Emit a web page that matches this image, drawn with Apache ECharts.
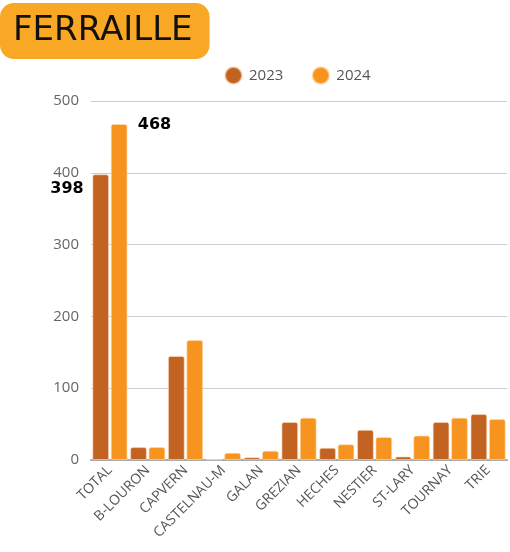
<!DOCTYPE html>
<html>
<head>
<meta charset="utf-8">
<script src="https://cdn.jsdelivr.net/npm/echarts@6/dist/echarts.min.js"></script>
<style>
  html, body { margin: 0; padding: 0; background: #fff; }
  #main { width: 510px; height: 552px; }
</style>
</head>
<body>
<div id="main"></div>
<script>
  // catégories et valeurs
  var categories = ['TOTAL', 'B-LOURON', 'CAPVERN', 'CASTELNAU-M', 'GALAN', 'GREZIAN', 'HECHES', 'NESTIER', 'ST-LARY', 'TOURNAY', 'TRIE'];
  var values2023 = [398, 18, 145, 1, 4, 53, 17, 42, 5, 53, 64];
  var values2024 = [468, 18, 167, 10, 13, 59, 22, 32, 34, 59, 57];
  var yTicks = [0, 100, 200, 300, 400, 500];

  var chart = echarts.init(document.getElementById('main'));

  function withTotalLabel(values, pos) {
    return values.map(function (v, i) {
      if (i !== 0) return v;
      return {
        value: v,
        label: {
          show: true,
          position: pos,
          color: '#000',
          fontSize: 16,
          fontWeight: 'bold',
          fontFamily: 'DejaVu Sans'
        }
      };
    });
  }

  chart.setOption({
    animation: false,
    title: {
      text: 'FERRAILLE',
      left: 0,
      top: 3,
      padding: [10, 17, 10, 13],
      backgroundColor: '#F9A825',
      borderRadius: 14,
      textStyle: {
        color: '#111',
        fontSize: 34,
        lineHeight: 36,
        fontWeight: 'normal',
        fontFamily: 'DejaVu Sans'
      }
    },
    legend: {
      top: 61,
      left: 219,
      icon: 'circle',
      itemWidth: 17,
      itemHeight: 17,
      itemGap: 28,
      textStyle: { color: '#555', fontSize: 15, fontFamily: 'Open Sans', padding: [0, 0, 0, 2] },
      data: ['2023', '2024']
    },
    grid: {
      left: 91,
      right: 3,
      top: 101,
      bottom: 92
    },
    xAxis: {
      type: 'category',
      data: categories,
      axisLine: { lineStyle: { color: '#aaa', width: 2 } },
      axisTick: { show: false },
      axisLabel: {
        rotate: 45,
        color: '#555',
        fontSize: 14,
        fontFamily: 'Open Sans',
        interval: 0,
        margin: 8
      }
    },
    yAxis: {
      type: 'value',
      min: yTicks[0],
      max: yTicks[yTicks.length - 1],
      interval: 100,
      axisLabel: { color: '#666', fontSize: 15, fontFamily: 'Open Sans', margin: 12 },
      splitLine: { lineStyle: { color: '#ccc' } },
      axisLine: { show: false },
      axisTick: { show: false }
    },
    series: [
      {
        name: '2023',
        type: 'bar',
        barGap: '10%',
        barCategoryGap: '7%',
        data: withTotalLabel(values2023, [-42, 7]),
        itemStyle: {
          color: '#C26322',
          borderColor: 'rgba(255,220,190,0.6)',
          borderWidth: 1,
          borderRadius: [2, 2, 0, 0]
        }
      },
      {
        name: '2024',
        type: 'bar',
        data: withTotalLabel(values2024, [27, -7]),
        itemStyle: {
          color: '#F79420',
          borderColor: 'rgba(255,220,170,0.6)',
          borderWidth: 1,
          borderRadius: [2, 2, 0, 0]
        }
      }
    ]
  });
</script>
</body>
</html>
